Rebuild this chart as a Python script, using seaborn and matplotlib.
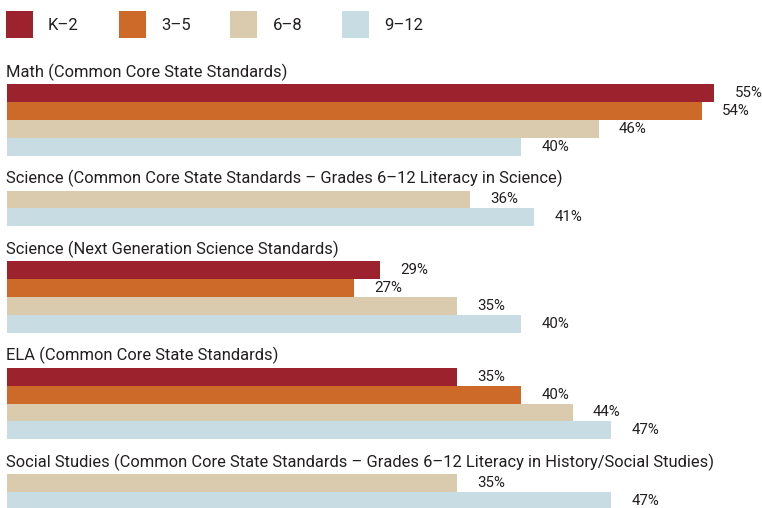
import matplotlib
matplotlib.use("Agg")
import matplotlib.pyplot as plt
import seaborn as sns
import pandas as pd
from matplotlib.patches import Patch

grades = ["K–2", "3–5", "6–8", "9–12"]
colors = ["#9C222E", "#CD6A2A", "#DACAAE", "#C7DCE3"]

titles = [
    "Math (Common Core State Standards)",
    "Science (Common Core State Standards – Grades 6–12 Literacy in Science)",
    "Science (Next Generation Science Standards)",
    "ELA (Common Core State Standards)",
    "Social Studies (Common Core State Standards – Grades 6–12 Literacy in History/Social Studies)",
]
group_grades = [grades, ["6–8", "9–12"], grades, grades, ["6–8", "9–12"]]
math_vals = [55, 54, 46, 40]
sci_ccss_vals = [36, 41]
sci_ngss_vals = [29, 27, 35, 40]
ela_vals = [35, 40, 44, 47]
ss_vals = [35, 47]
group_vals = [math_vals, sci_ccss_vals, sci_ngss_vals, ela_vals, ss_vals]

sns.set_theme(style="white")
plt.rcParams["font.family"] = ["Roboto", "DejaVu Sans"]
text_color = "#231F20"
palette = dict(zip(grades, colors))

W, H = 762, 508
fig = plt.figure(figsize=(W / 100, H / 100), dpi=100)
gs = fig.add_gridspec(
    len(titles), 1,
    height_ratios=[len(g) for g in group_grades],
    left=6.5 / W, right=753 / W,
    top=1 - 84 / H, bottom=1 - 510 / H,
    hspace=0.599,
)

for i, (title, g, v) in enumerate(zip(titles, group_grades, group_vals)):
    ax = fig.add_subplot(gs[i])
    df = pd.DataFrame({"grade": g, "value": v})
    sns.barplot(data=df, x="value", y="grade", hue="grade", order=g,
                hue_order=g, palette=palette, width=1, saturation=1,
                legend=False, ax=ax, linewidth=0)
    for c in ax.containers:
        ax.bar_label(c, fmt="{:.0f}%", padding=14.5, fontsize=10.8,
                     color=text_color)
    ax.set_xlim(0, 58)
    ax.set_title(title, loc="left", pad=5, fontsize=11.9, color=text_color)
    ax.set_xlabel("")
    ax.set_ylabel("")
    ax.set_xticks([])
    ax.set_yticks([])
    for s in ax.spines.values():
        s.set_visible(False)

handles = [Patch(facecolor=c, edgecolor="none") for c in colors]
fig.legend(handles, grades, loc="upper left",
           bbox_to_anchor=(6 / W, 1 - 11 / H), ncol=4, frameon=False,
           fontsize=12, handlelength=1.62, handleheight=2.115,
           handletextpad=0.9, columnspacing=2.4, borderaxespad=0,
           borderpad=0, labelcolor=text_color)

fig.savefig("out.png", dpi=100)
